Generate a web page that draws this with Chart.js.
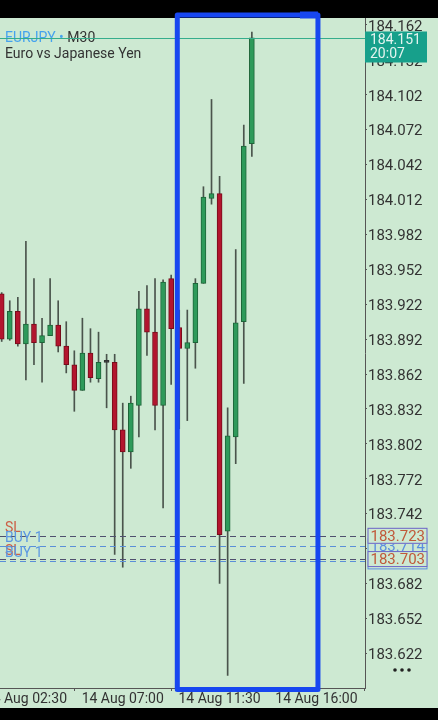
<!DOCTYPE html>
<html>
<head>
<meta charset="utf-8">
<script src="https://cdn.jsdelivr.net/npm/chart.js@4.4.1/dist/chart.umd.min.js"></script>
<style>
html, body { margin: 0; padding: 0; background: #000; }
#wrap { width: 438px; height: 720px; }
</style>
</head>
<body>
<div id="wrap"><canvas id="myChart" width="438" height="720"></canvas></div>
<script>
// EURJPY M30 candles (index 0 = leftmost, half cut off)
const candleIdx = [0,1,2,3,4,5,6,7,8,9,10,11,12,13,14,15,16,17,18,19,20,21,22,23,24,25,26,27,28,29,30,31];
const opens  = [183.931,183.892,183.916,183.888,183.905,183.889,183.895,183.904,183.886,183.870,183.848,183.880,183.858,183.872,183.872,183.814,183.795,183.835,183.918,183.898,183.835,183.944,183.902,183.884,183.889,183.940,184.013,184.017,183.727,183.808,183.907,184.060];
const highs  = [183.932,183.925,183.928,183.976,183.944,183.910,183.944,183.925,183.907,183.882,183.910,183.901,183.898,183.879,183.879,183.837,183.843,183.933,183.938,183.944,183.943,183.947,183.917,183.917,183.944,184.023,184.098,184.032,183.833,183.969,184.076,184.156];
const lows   = [183.890,183.891,183.886,183.857,183.870,183.855,183.895,183.881,183.863,183.830,183.848,183.855,183.855,183.833,183.707,183.696,183.781,183.808,183.878,183.814,183.747,183.853,183.815,183.822,183.867,183.940,184.008,183.682,183.603,183.785,183.854,184.049];
const closes = [183.892,183.916,183.888,183.905,183.889,183.895,183.904,183.886,183.870,183.848,183.880,183.859,183.872,183.872,183.814,183.795,183.837,183.918,183.898,183.835,183.941,183.901,183.884,183.889,183.940,184.014,184.017,183.724,183.809,183.906,184.058,184.151];

const yTicks = [184.162,184.132,184.102,184.072,184.042,184.012,183.982,183.952,183.922,183.892,183.862,183.832,183.802,183.772,183.742,183.712,183.682,183.652,183.622];
const xTickIdx = [3, 15, 27, 39];
const xTickLabels = ['14 Aug 02:30', '14 Aug 07:00', '14 Aug 11:30', '14 Aug 16:00'];

const currentPrice = 184.151;
const currentTime = '20:07';
const slLevels = [183.723, 183.703];
const buyLevels = [183.714, 183.701];

const BG = '#cde9d2';
const FONT = 'Roboto, "Noto Sans", sans-serif';

const bodyColor = candleIdx.map(i => closes[i] > opens[i] ? '#2e9a5a' : (closes[i] < opens[i] ? '#b3152e' : '#333'));
const bodyBorder = candleIdx.map(i => closes[i] > opens[i] ? '#1d6438' : (closes[i] < opens[i] ? '#760c1b' : '#333'));

const bgPlugin = {
  id: 'bg',
  beforeDraw(chart) {
    const c = chart.ctx;
    c.save();
    c.fillStyle = '#000';
    c.fillRect(0, 0, chart.width, chart.height);
    c.fillStyle = BG;
    c.fillRect(0, 18, chart.width, 690);
    c.restore();
  }
};

function priceBox(c, x, y, text, border, color) {
  c.fillStyle = BG;
  c.fillRect(x, y - 8, 60, 16);
  c.strokeStyle = border;
  c.lineWidth = 1;
  c.strokeRect(x + 0.5, y - 7.5, 59, 15);
  c.fillStyle = color;
  c.fillText(text, x + 3, y + 1);
}

const overlayPlugin = {
  id: 'overlay',
  afterDraw(chart) {
    const c = chart.ctx;
    const xs = chart.scales.x, ys = chart.scales.y;
    const area = chart.chartArea;
    c.save();

    // symbol title
    c.font = '14px ' + FONT;
    c.textBaseline = 'middle';
    c.textAlign = 'left';
    c.fillStyle = '#45a3ee';
    c.fillText('EURJPY', 5, 38);
    let w = c.measureText('EURJPY ').width;
    c.fillText('•', 5 + w, 38);
    w += c.measureText('• ').width;
    c.fillStyle = '#333';
    c.fillText('M30', 5 + w, 38);
    c.fillText('Euro vs Japanese Yen', 5, 54);

    // current price line
    const py = Math.round(ys.getPixelForValue(currentPrice)) + 0.5;
    c.strokeStyle = '#35ad8c';
    c.lineWidth = 1;
    c.beginPath(); c.moveTo(0, py); c.lineTo(area.right, py); c.stroke();

    // order levels
    c.setLineDash([6, 4]);
    buyLevels.forEach(v => {
      const y = Math.round(ys.getPixelForValue(v)) + 0.5;
      c.strokeStyle = '#5a8fd8';
      c.beginPath(); c.moveTo(0, y); c.lineTo(area.right, y); c.stroke();
    });
    slLevels.forEach(v => {
      const y = Math.round(ys.getPixelForValue(v)) + 0.5;
      c.strokeStyle = '#4f4f6e';
      c.beginPath(); c.moveTo(0, y); c.lineTo(area.right, y); c.stroke();
    });
    c.setLineDash([]);
    c.font = '14px ' + FONT;
    c.textBaseline = 'alphabetic';
    slLevels.forEach(v => {
      c.fillStyle = '#cc5e45';
      c.fillText('SL', 5, ys.getPixelForValue(v) - 4);
    });
    buyLevels.forEach(v => {
      c.fillStyle = '#5b97e2';
      c.fillText('BUY 1', 5, ys.getPixelForValue(v) - 4);
    });

    // right side price boxes
    c.font = '15px ' + FONT;
    c.textBaseline = 'middle';
    buyLevels.forEach(v => priceBox(c, 367.5, ys.getPixelForValue(v), v.toFixed(3), '#5a8fe0', '#5a8fe0'));
    slLevels.forEach(v => priceBox(c, 367.5, ys.getPixelForValue(v), v.toFixed(3), '#6b63c8', '#c0593a'));

    // current price tag
    c.font = '14px ' + FONT;
    c.fillStyle = '#17a08b';
    c.fillRect(area.right, py - 7, 62, 31);
    c.fillStyle = '#e4f4ef';
    c.fillText(currentPrice.toFixed(3), area.right + 5, py + 2);
    c.fillText(currentTime, area.right + 5, py + 16);

    // hand-drawn blue frame
    const l = xs.getPixelForValue(21.76), r = xs.getPixelForValue(39.19);
    c.strokeStyle = '#1747f0';
    c.lineWidth = 5;
    c.lineJoin = 'round';
    c.strokeRect(l, area.top - 3, r - l, area.bottom - area.top + 4.5);
    c.lineWidth = 7;
    c.beginPath(); c.moveTo(r - 18, area.top - 3); c.lineTo(r, area.top - 3); c.stroke();

    // menu dots
    c.fillStyle = '#222';
    [395, 402, 409].forEach(x => { c.beginPath(); c.arc(x, 670, 1.8, 0, Math.PI * 2); c.fill(); });
    c.restore();
  }
};

var ctx = document.getElementById('myChart').getContext('2d');
Chart.defaults.font.family = FONT;
Chart.defaults.font.size = 14;
Chart.defaults.color = '#333';

var chart = new Chart(ctx, {
  type: 'bar',
  data: {
    datasets: [
      {
        label: 'body',
        data: candleIdx.map(i => ({ x: i, y: [Math.min(opens[i], closes[i]), Math.max(opens[i], closes[i])] })),
        backgroundColor: bodyColor,
        borderColor: bodyBorder,
        borderWidth: 1,
        borderSkipped: false,
        barThickness: 5,
        minBarLength: 2,
        grouped: false
      },
      {
        label: 'wick',
        data: candleIdx.map(i => ({ x: i, y: [lows[i], highs[i]] })),
        backgroundColor: '#4a544c',
        barThickness: 1,
        grouped: false
      }
    ]
  },
  options: {
    responsive: false,
    animation: false,
    layout: { padding: { top: 18, bottom: 12, left: 0, right: 0 } },
    plugins: { legend: { display: false }, tooltip: { enabled: false } },
    scales: {
      x: {
        type: 'linear',
        min: -0.21,
        max: 45.02,
        offset: false,
        grid: { drawOnChartArea: false, tickLength: 3, color: '#555' },
        border: { display: true, color: '#555' },
        ticks: {
          autoSkip: false,
          maxRotation: 0,
          padding: 0,
          color: '#333',
          callback: v => xTickLabels[xTickIdx.indexOf(v)]
        },
        afterBuildTicks: s => { s.ticks = xTickIdx.map(v => ({ value: v })); },
        afterFit: s => { s.height = 20; s.paddingLeft = 0; s.paddingRight = 0; }
      },
      y: {
        position: 'right',
        min: 183.5922,
        max: 184.168,
        grid: { drawOnChartArea: false, tickLength: 2, color: '#555' },
        border: { display: true, color: '#555' },
        ticks: {
          autoSkip: false,
          padding: 1,
          labelOffset: 2,
          crossAlign: 'near',
          color: '#333',
          font: { size: 15 },
          callback: v => v.toFixed(3)
        },
        afterBuildTicks: s => { s.ticks = yTicks.map(v => ({ value: v })); },
        afterFit: s => { s.width = 73; s.paddingTop = 0; s.paddingBottom = 0; }
      }
    }
  },
  plugins: [bgPlugin, overlayPlugin]
});
</script>
</body>
</html>
